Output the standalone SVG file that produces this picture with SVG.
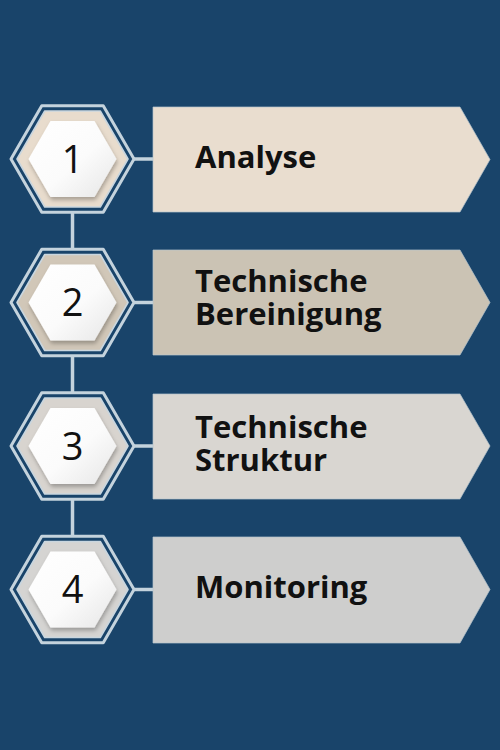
<svg xmlns="http://www.w3.org/2000/svg" xmlns:xlink="http://www.w3.org/1999/xlink" width="500" height="750" viewBox="0 0 500 750">
  <defs>
    <linearGradient id="gWhite" x1="0" y1="0" x2="1" y2="1">
      <stop offset="0" stop-color="#ffffff"/>
      <stop offset="0.55" stop-color="#fbfbfb"/>
      <stop offset="1" stop-color="#e6e6e6"/>
    </linearGradient>
    <filter id="shadow" x="-30%" y="-30%" width="160%" height="160%">
      <feDropShadow dx="1" dy="3" stdDeviation="2.2" flood-color="#000" flood-opacity="0.28"/>
    </filter>
    <polygon id="ring" points="-61.5,0 -30.75,-53.3 30.75,-53.3 61.5,0 30.75,53.3 -30.75,53.3"/>
    <polygon id="inner" points="-55.5,0 -27.75,-48 27.75,-48 55.5,0 27.75,48 -27.75,48"/>
    <polygon id="white" points="-44,0 -22,-38 22,-38 44,0 22,38 -22,38"/>
  </defs>
  <style>
    .ring { fill: none; stroke: #c4d3dd; stroke-width: 3; stroke-linejoin: round; }
    .inner { stroke: #c9d6df; stroke-width: 1.6; stroke-linejoin: round; }
    .white { fill: url(#gWhite); filter: url(#shadow); }
    .num { font-family: "Open Sans", "Liberation Sans", sans-serif; font-size: 38px; fill: #111; text-anchor: middle; }
    .box { stroke: #b7c4cd; stroke-width: 1; stroke-opacity: 0.7; }
    .label { font-family: "Open Sans", "Liberation Sans", sans-serif; font-weight: bold; font-size: 31px; fill: #111; }
    .conn { stroke: #c4d3dd; stroke-width: 3.5; fill: none; }
  </style>
  <rect width="500" height="750" fill="#19446a"/>

  <g id="connectors">
    <line class="conn" x1="72.5" y1="212" x2="72.5" y2="250"/>
    <line class="conn" x1="72.5" y1="355" x2="72.5" y2="393"/>
    <line class="conn" x1="72.5" y1="499" x2="72.5" y2="537"/>
    <line class="conn" x1="133" y1="159" x2="153" y2="159" stroke-width="3"/>
    <line class="conn" x1="133" y1="302.5" x2="153" y2="302.5" stroke-width="3"/>
    <line class="conn" x1="133" y1="446" x2="153" y2="446" stroke-width="3"/>
    <line class="conn" x1="133" y1="589.5" x2="153" y2="589.5" stroke-width="3"/>
  </g>

  <g id="step1">
    <polygon class="box" fill="#e9ddcf" points="153,107 460,107 490,159.5 460,212 153,212"/>
    <text class="label" x="195" y="168">Analyse</text>
    <g transform="translate(72.5,159)">
      <use xlink:href="#ring" class="ring"/>
      <use xlink:href="#inner" class="inner" fill="#e8dccd"/>
      <use xlink:href="#white" class="white"/>
      <text class="num" y="13.5">1</text>
    </g>
  </g>

  <g id="step2">
    <polygon class="box" fill="#cbc3b4" points="153,250 460,250 490,302.5 460,355 153,355"/>
    <text class="label" x="195" y="292">Technische</text>
    <text class="label" x="195" y="325">Bereinigung</text>
    <g transform="translate(72.5,302.5)">
      <use xlink:href="#ring" class="ring"/>
      <use xlink:href="#inner" class="inner" fill="#d1c7b8"/>
      <use xlink:href="#white" class="white"/>
      <text class="num" y="13.5">2</text>
    </g>
  </g>

  <g id="step3">
    <polygon class="box" fill="#d9d6d1" points="153,394 460,394 490,446 460,499 153,499"/>
    <text class="label" x="195" y="438">Technische</text>
    <text class="label" x="195" y="471">Struktur</text>
    <g transform="translate(72.5,446)">
      <use xlink:href="#ring" class="ring"/>
      <use xlink:href="#inner" class="inner" fill="#d8d4cf"/>
      <use xlink:href="#white" class="white"/>
      <text class="num" y="13.5">3</text>
    </g>
  </g>

  <g id="step4">
    <polygon class="box" fill="#cececd" points="153,537 460,537 490,589.5 460,643 153,643"/>
    <text class="label" x="195" y="598">Monitoring</text>
    <g transform="translate(72.5,589.5)">
      <use xlink:href="#ring" class="ring"/>
      <use xlink:href="#inner" class="inner" fill="#d5d4d2"/>
      <use xlink:href="#white" class="white"/>
      <text class="num" y="13.5">4</text>
    </g>
  </g>
</svg>
